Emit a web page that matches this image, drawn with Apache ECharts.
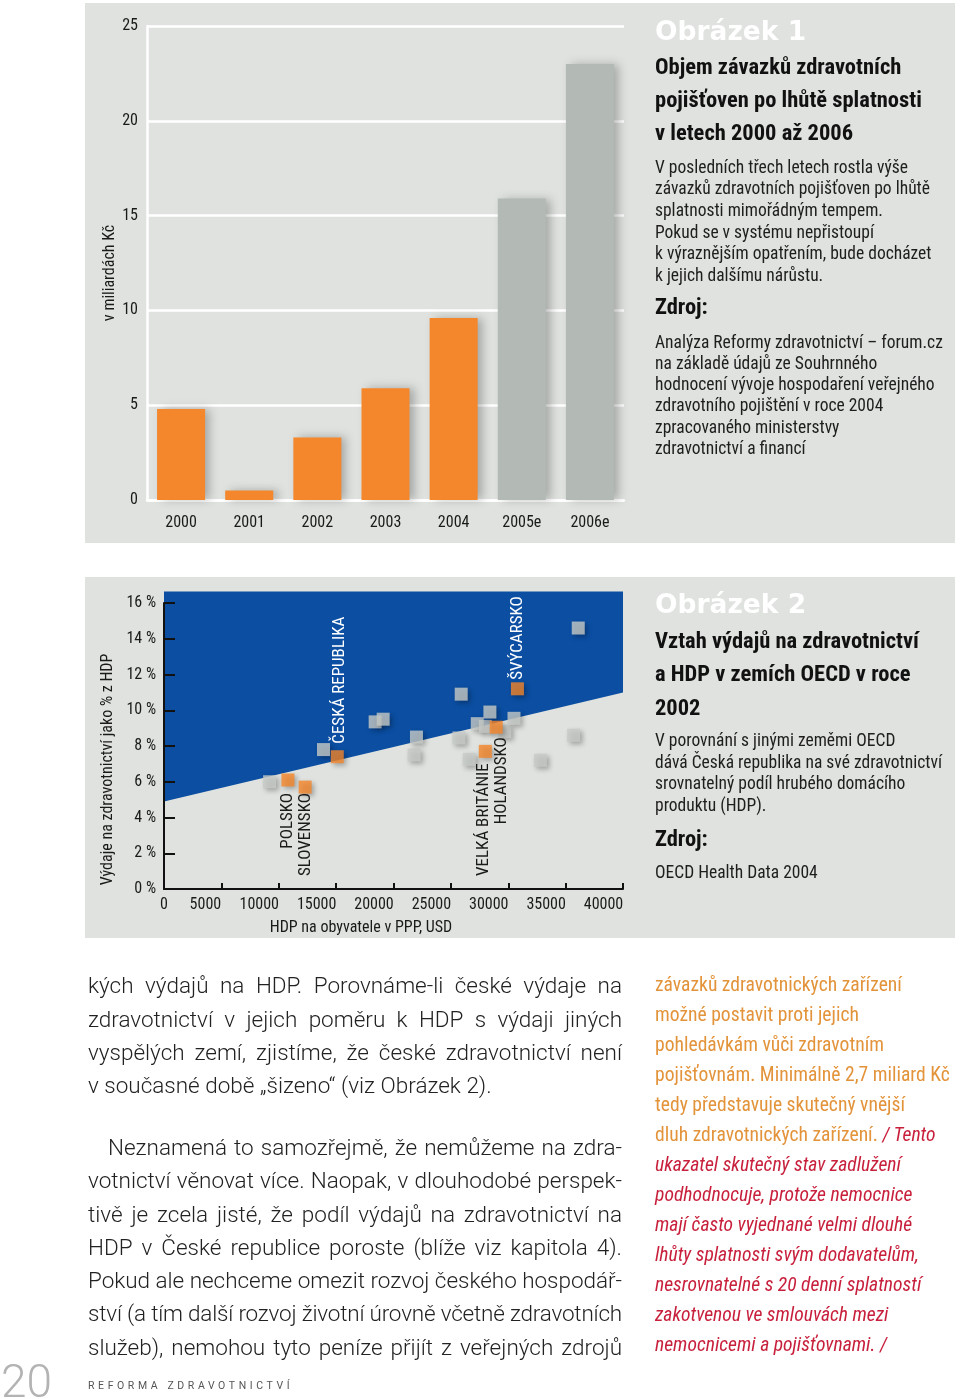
<!DOCTYPE html>
<html><head><meta charset="utf-8">
<script src="https://cdn.jsdelivr.net/npm/echarts@6/dist/echarts.min.js"></script>
<style>
html,body{margin:0;padding:0;background:#fff;}
#page{position:relative;width:960px;height:1399px;overflow:hidden;background:#fff;}
#chart{position:absolute;left:0;top:0;width:960px;height:1399px;}
.ln{position:absolute;white-space:nowrap;}
</style></head><body>
<div id="page"><div id="chart"></div></div>
<script>
// ---------------- DATA ----------------
// Obrázek 1 – liabilities after due date (bn CZK)
const barCategories = ['2000', '2001', '2002', '2003', '2004', '2005e', '2006e'];
const barValues = [4.8, 0.5, 3.3, 5.9, 9.6, 15.9, 23.0];
const barIsEstimate = [false, false, false, false, false, true, true];
const barAxisMin = 0, barAxisMax = 25, barAxisStep = 5;

// Obrázek 2 – OECD countries: GDP per capita (PPP, USD) vs health spending (% GDP)
const otherGdp   = [9200, 13900, 18400, 19100, 21800, 22000, 25700, 25900, 26600, 27300, 28000, 28400, 29700, 30500, 32800, 35700, 36100];
const otherShare = [6.0,  7.8,   9.35,  9.5,   7.5,   8.5,   8.45,  10.9,  7.25,  9.25,  9.1,   9.9,   8.8,   9.55,  7.2,   8.6,   14.6];
const highlightNames = ['POLSKO', 'SLOVENSKO', 'ČESKÁ REPUBLIKA', 'VELKÁ BRITÁNIE', 'HOLANDSKO', 'ŠVÝCARSKO'];
const highlightGdp   = [10800, 12300, 15100, 28000, 28950, 30800];
const highlightShare = [6.1,   5.7,   7.4,   7.7,   9.05,  11.2];
const boundaryGdp   = [0, 40000];
const boundaryShare = [4.9, 11.0];
const boundaryTopShare = 16.65;
const scatterXTicks = [0, 5000, 10000, 15000, 20000, 25000, 30000, 35000, 40000];
const scatterYMin = 0, scatterYMax = 16, scatterYStep = 2;

// ---------------- STYLE ----------------
const COND = '"Roboto Condensed", "Roboto", sans-serif';
const PANEL = '#dfe2de';
const ORANGE = '#f4862b';
const GREYBAR = '#b3bab5';
const BLUE = '#0b4ea2';
const INK = '#1a1a1a';

// x tick labels of Obrázek 2 end at their tick (except 0, centred): pad each by its own width
const mctx = document.createElement('canvas').getContext('2d');
mctx.font = '400 16px "Roboto Condensed"';
const xRich = {};
scatterXTicks.forEach(v => {
  const w = v === 0 ? 0 : Math.round(mctx.measureText(String(v)).width);
  xRich['t' + v] = {padding: [0, w, 0, 0], fontSize: 16, color: INK, fontFamily: COND};
});

const chart = echarts.init(document.getElementById('chart'), null, {renderer: 'canvas'});

const backgrounds = [
  {type: 'rect', z: -10, silent: true, shape: {x: 85, y: 3, width: 870, height: 540}, style: {fill: PANEL}},
  {type: 'rect', z: -10, silent: true, shape: {x: 85, y: 577, width: 870, height: 361}, style: {fill: PANEL}}
];

const option = {
  animation: false,
  textStyle: {fontFamily: COND},
  grid: [
    {left: 147, top: 26, width: 477, height: 474},
    {left: 164, top: 603, width: 459, height: 286}
  ],
  xAxis: [
    {gridIndex: 0, type: 'category', data: barCategories,
     axisLine: {lineStyle: {color: '#ffffff', width: 2.5}},
     axisTick: {show: false},
     axisLabel: {color: INK, fontSize: 16, margin: 15, fontFamily: COND},
     splitLine: {show: false}},
    {gridIndex: 1, type: 'value', min: scatterXTicks[0], max: scatterXTicks[scatterXTicks.length - 1],
     interval: scatterXTicks[1] - scatterXTicks[0], z: 10,
     axisLine: {show: true, onZero: false, lineStyle: {color: '#111', width: 2}},
     axisTick: {show: true, inside: true, length: 6, lineStyle: {color: '#111', width: 2}},
     axisLabel: {color: INK, fontSize: 16, margin: 8, fontFamily: COND,
       formatter: v => '{t' + v + '|' + v + '}', rich: xRich},
     splitLine: {show: false},
     name: 'HDP na obyvatele v PPP, USD', nameLocation: 'middle', nameGap: 31,
     nameTextStyle: {color: INK, fontSize: 16, fontFamily: COND, padding: [0, 65, 0, 0]}}
  ],
  yAxis: [
    {gridIndex: 0, type: 'value', min: barAxisMin, max: barAxisMax, interval: barAxisStep,
     axisLine: {show: true, lineStyle: {color: '#ffffff', width: 2.5}},
     axisTick: {show: false},
     axisLabel: {color: INK, fontSize: 16, margin: 9, fontFamily: COND},
     splitLine: {show: true, lineStyle: {color: '#ffffff', width: 2.5}},
     name: 'v miliardách Kč', nameLocation: 'middle', nameGap: 29,
     nameTextStyle: {color: INK, fontSize: 16, fontFamily: COND, padding: [0, 20, 0, 0]}},
    {gridIndex: 1, type: 'value', min: scatterYMin, max: scatterYMax, interval: scatterYStep, z: 10,
     axisLine: {show: true, onZero: false, lineStyle: {color: '#111', width: 2}},
     axisTick: {show: true, inside: true, length: 11, lineStyle: {color: '#111', width: 2}},
     axisLabel: {color: INK, fontSize: 16, margin: 8, fontFamily: COND, formatter: v => v + ' %'},
     splitLine: {show: false},
     name: 'Výdaje na zdravotnictví jako % z HDP', nameLocation: 'middle', nameGap: 48,
     nameTextStyle: {color: INK, fontSize: 16, fontFamily: COND, padding: [0, 47, 0, 0]}}
  ],
  series: [
    {type: 'bar', xAxisIndex: 0, yAxisIndex: 0, barWidth: 48, z: 3,
     data: barValues.map((v, i) => ({value: v, itemStyle: {color: barIsEstimate[i] ? GREYBAR : ORANGE}})),
     itemStyle: {shadowBlur: 9, shadowOffsetX: 5, shadowOffsetY: 0, shadowColor: 'rgba(60,60,60,0.35)'}},
    {type: 'custom', xAxisIndex: 1, yAxisIndex: 1, z: 1, silent: true, clip: false,
     data: [[boundaryGdp[0], boundaryShare[0]]],
     renderItem: function (params, api) {
       const p0 = api.coord([boundaryGdp[0], boundaryShare[0]]);
       const p1 = api.coord([boundaryGdp[1], boundaryShare[1]]);
       const p2 = api.coord([boundaryGdp[1], boundaryTopShare]);
       const p3 = api.coord([boundaryGdp[0], boundaryTopShare]);
       return {type: 'polygon', shape: {points: [p0, p1, p2, p3]}, style: {fill: BLUE}};
     }},
    {type: 'scatter', xAxisIndex: 1, yAxisIndex: 1, symbol: 'rect', symbolSize: 13, z: 3,
     data: otherGdp.map((x, i) => [x, otherShare[i]]),
     itemStyle: {color: '#c7cac7', shadowBlur: 5, shadowOffsetX: 2.5, shadowOffsetY: 2.5, shadowColor: 'rgba(0,0,0,0.35)'}},
    {type: 'scatter', xAxisIndex: 1, yAxisIndex: 1, symbol: 'rect', symbolSize: 13, z: 4,
     data: highlightGdp.map((x, i) => ({name: highlightNames[i], value: [x, highlightShare[i]]})),
     itemStyle: {color: ORANGE, shadowBlur: 5, shadowOffsetX: 2.5, shadowOffsetY: 2.5, shadowColor: 'rgba(0,0,0,0.35)'}}
  ],
  graphic: backgrounds
};
chart.setOption(option);

// country labels, placed through the chart's own coordinate conversion
const labelPlacement = [
  {dx: 0, dy: 13, up: false, fill: INK},
  {dx: 1, dy: 6, up: false, fill: INK},
  {dx: 2, dy: -13, up: true, fill: '#ffffff'},
  {dx: -2, dy: 12, up: false, fill: INK},
  {dx: 6, dy: 10, up: false, fill: INK},
  {dx: 0, dy: -9, up: true, fill: '#ffffff'}
];
const labelGraphics = highlightNames.map((name, i) => {
  const p = chart.convertToPixel({xAxisIndex: 1, yAxisIndex: 1}, [highlightGdp[i], highlightShare[i]]);
  const lp = labelPlacement[i];
  return {type: 'text', z: 50, silent: true, x: p[0] + lp.dx, y: p[1] + lp.dy, rotation: Math.PI / 2,
    style: {text: name, fill: lp.fill, font: '400 17px ' + COND,
      align: lp.up ? 'left' : 'right', verticalAlign: 'middle',
      textAlign: lp.up ? 'left' : 'right', textVerticalAlign: 'middle'}};
});
chart.setOption({graphic: backgrounds.concat(labelGraphics)}, {replaceMerge: ['graphic']});

// ---------------- TEXT BLOCKS ----------------
const page = document.getElementById('page');
function addLine(html, x, yc, css, justifyTo) {
  const d = document.createElement('div');
  d.className = 'ln';
  d.innerHTML = html;
  const lh = css.lh || 24;
  d.style.left = x + 'px';
  d.style.top = (yc - lh / 2) + 'px';
  d.style.lineHeight = lh + 'px';
  d.style.fontFamily = css.family;
  d.style.fontSize = css.size + 'px';
  d.style.fontWeight = css.weight || 400;
  d.style.color = css.color;
  if (css.ls) d.style.letterSpacing = css.ls + 'px';
  page.appendChild(d);
  if (justifyTo) {
    const w = d.getBoundingClientRect().width;
    const txt = d.textContent;
    const spaces = (txt.match(/ /g) || []).length;
    if (w > justifyTo) {
      d.style.letterSpacing = ((justifyTo - w) / txt.length) + 'px';
    } else if (spaces) {
      d.style.wordSpacing = ((justifyTo - w) / spaces) + 'px';
    }
  }
  return d;
}

const fig = {family: '"DejaVu Sans", sans-serif', size: 26.5, weight: 700, color: '#ffffff', lh: 30};
const ttl = {family: COND, size: 22.5, weight: 700, color: '#111', lh: 28};
const body = {family: COND, size: 17.5, weight: 400, color: '#1e1e1e', lh: 21};

// panel 1 text
addLine('Obrázek 1', 655, 31, fig);
[['Objem závazků zdravotních', 66], ['pojišťoven po lhůtě splatnosti', 99], ['v letech 2000 až 2006', 132]]
  .forEach(t => addLine(t[0], 655, t[1], ttl));
[['V posledních třech letech rostla výše', 167], ['závazků zdravotních pojišťoven po lhůtě', 188],
 ['splatnosti mimořádným tempem.', 210], ['Pokud se v systému nepřistoupí', 232],
 ['k výraznějším opatřením, bude docházet', 253], ['k jejich dalšímu nárůstu.', 275]]
  .forEach(t => addLine(t[0], 655, t[1], body));
addLine('Zdroj:', 655, 306, ttl);
[['Analýza Reformy zdravotnictví – forum.cz', 342], ['na základě údajů ze Souhrnného', 363],
 ['hodnocení vývoje hospodaření veřejného', 384], ['zdravotního pojištění v roce 2004', 405],
 ['zpracovaného ministerstvy', 427], ['zdravotnictví a financí', 448]]
  .forEach(t => addLine(t[0], 655, t[1], body));

// panel 2 text
addLine('Obrázek 2', 655, 604, fig);
[['Vztah výdajů na zdravotnictví', 640], ['a HDP v zemích OECD v roce', 673], ['2002', 707]]
  .forEach(t => addLine(t[0], 655, t[1], ttl));
[['V porovnání s jinými zeměmi OECD', 740], ['dává Česká republika na své zdravotnictví', 762],
 ['srovnatelný podíl hrubého domácího', 783], ['produktu (HDP).', 805]]
  .forEach(t => addLine(t[0], 655, t[1], body));
addLine('Zdroj:', 655, 838, ttl);
addLine('OECD Health Data 2004', 655, 872, body);

// main column prose
const prose = {family: 'Roboto, sans-serif', size: 22.5, weight: 300, color: '#222', lh: 30};
const proseLines = [
  ['kých výdajů na HDP. Porovnáme-li české výdaje na', 88, 985, true],
  ['zdravotnictví v jejich poměru k HDP s výdaji jiných', 88, 1019, true],
  ['vyspělých zemí, zjistíme, že české zdravotnictví není', 88, 1052, true],
  ['v současné době „šizeno“ (viz Obrázek 2).', 88, 1085, false],
  ['Neznamená to samozřejmě, že nemůžeme na zdra-', 108, 1147, true],
  ['votnictví věnovat více. Naopak, v dlouhodobé perspek-', 88, 1180, true],
  ['tivě je zcela jisté, že podíl výdajů na zdravotnictví na', 88, 1214, true],
  ['HDP v České republice poroste (blíže viz kapitola 4).', 88, 1247, true],
  ['Pokud ale nechceme omezit rozvoj českého hospodář-', 88, 1280, true],
  ['ství (a tím další rozvoj životní úrovně včetně zdravotních', 88, 1313, true],
  ['služeb), nemohou tyto peníze přijít z veřejných zdrojů', 88, 1347, true]
];
proseLines.forEach(l => addLine(l[0], l[1], l[2], prose, l[3] ? (622 - l[1]) : null));

// side column
const side = {family: COND, size: 19.6, weight: 400, color: '#e3933a', lh: 26};
const red = 'color:#c8203c;font-style:italic';
const sideLines = [
  'závazků zdravotnických zařízení',
  'možné postavit proti jejich',
  'pohledávkám vůči zdravotním',
  'pojišťovnám. Minimálně 2,7 miliard Kč',
  'tedy představuje skutečný vnější',
  'dluh zdravotnických zařízení. <span style="' + red + '">/ Tento</span>',
  '<span style="' + red + '">ukazatel skutečný stav zadlužení</span>',
  '<span style="' + red + '">podhodnocuje, protože nemocnice</span>',
  '<span style="' + red + '">mají často vyjednané velmi dlouhé</span>',
  '<span style="' + red + '">lhůty splatnosti svým dodavatelům,</span>',
  '<span style="' + red + '">nesrovnatelné s 20 denní splatností</span>',
  '<span style="' + red + '">zakotvenou ve smlouvách mezi</span>',
  '<span style="' + red + '">nemocnicemi a pojišťovnami. /</span>'
];
sideLines.forEach((t, i) => addLine(t, 655, 985 + i * 30, side));

// footer
addLine('20', 1, 1381, {family: 'Roboto, sans-serif', size: 46, weight: 300, color: '#b3b3b3', lh: 50});
addLine('REFORMA ZDRAVOTNICTVÍ', 88, 1386, {family: 'Roboto, sans-serif', size: 10.5, weight: 400, color: '#555', lh: 14, ls: 3.6});
</script>
</body></html>
